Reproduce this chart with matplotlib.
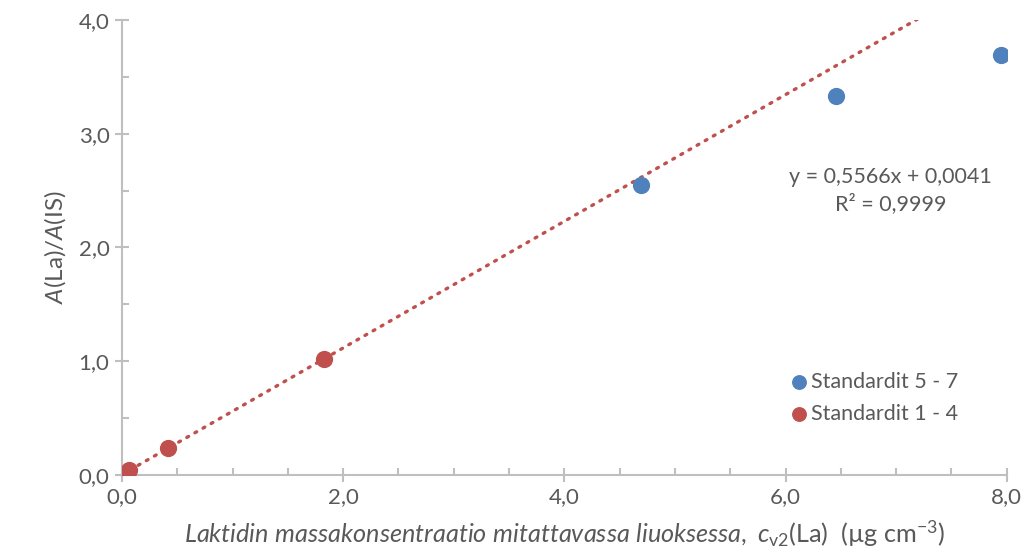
import numpy as np
import matplotlib
matplotlib.use("Agg")
import matplotlib.pyplot as plt
from matplotlib.ticker import MultipleLocator, FuncFormatter

# Mittausdata
x_std_5_7 = [4.69, 6.46, 7.95]
y_std_5_7 = [2.55, 3.33, 3.69]
x_std_1_4 = [0.02, 0.06, 0.42, 1.83]
y_std_1_4 = [0.01, 0.04, 0.24, 1.02]

# Sovite (standardit 1 - 4)
slope = 0.5566
intercept = 0.0041
fit_text = "y = 0,5566x + 0,0041\nR² = 0,9999"

blue = "#4F81BD"
red = "#C0504D"
grey = "#595959"
axis_grey = "#BFBFBF"

plt.rcParams['font.family'] = ['Lato', 'DejaVu Sans']
plt.rcParams['mathtext.fontset'] = 'custom'
plt.rcParams['mathtext.rm'] = 'Lato'
plt.rcParams['mathtext.it'] = 'Lato:italic'

fig = plt.figure(figsize=(10.28, 5.52), dpi=100)
ax = fig.add_axes([0.1187, 0.1395, 0.8606, 0.8243])

xx = np.array([0, 8])
ax.plot(xx, slope * xx + intercept, color=red, lw=2.4, linestyle=(0, (0.6, 2.2)),
        dash_capstyle='round', zorder=2)
ax.scatter(x_std_5_7, y_std_5_7, s=130, color=blue, label="Standardit 5 - 7", zorder=3)
ax.scatter(x_std_1_4, y_std_1_4, s=130, color=red, label="Standardit 1 - 4", zorder=3)

ax.set_xlim(0, 8)
ax.set_ylim(0, 4)
ax.xaxis.set_major_locator(MultipleLocator(2))
ax.xaxis.set_minor_locator(MultipleLocator(0.5))
ax.yaxis.set_major_locator(MultipleLocator(1))
ax.yaxis.set_minor_locator(MultipleLocator(0.5))
fmt = FuncFormatter(lambda v, p: f"{v:.1f}".replace(".", ","))
ax.xaxis.set_major_formatter(fmt)
ax.yaxis.set_major_formatter(fmt)

for s in ['top', 'right']:
    ax.spines[s].set_visible(False)
for s in ['left', 'bottom']:
    ax.spines[s].set_color(axis_grey)
    ax.spines[s].set_linewidth(1.5)
ax.tick_params(which='major', direction='inout', length=10, width=1.5, color=axis_grey,
               labelcolor=grey, labelsize=16, pad=4)
ax.tick_params(which='minor', direction='in', length=5, width=1.5, color=axis_grey)

ax.set_xlabel(r"$\mathit{Laktidin\ massakonsentraatio\ mitattavassa\ liuoksessa,\ c}_{\mathrm{v2}}$(La)  (µg cm$^{-3}$)",
              fontsize=18.2, color=grey, labelpad=8)
ax.set_ylabel(r"$\mathit{A}$(La)/$\mathit{A}$(IS)", fontsize=17.5, color=grey, labelpad=8)

ax.text(6.95, 2.50, fit_text, ha='center', va='center', fontsize=15.5, color=grey,
        linespacing=1.35)

ax.legend(loc='center left', bbox_to_anchor=(0.755, 0.17), frameon=False, fontsize=15.5,
          labelcolor=grey, handlelength=0.8, handletextpad=0.2, borderpad=0,
          borderaxespad=0, markerscale=0.85, labelspacing=0.55)

fig.savefig("out.png", dpi=100)
